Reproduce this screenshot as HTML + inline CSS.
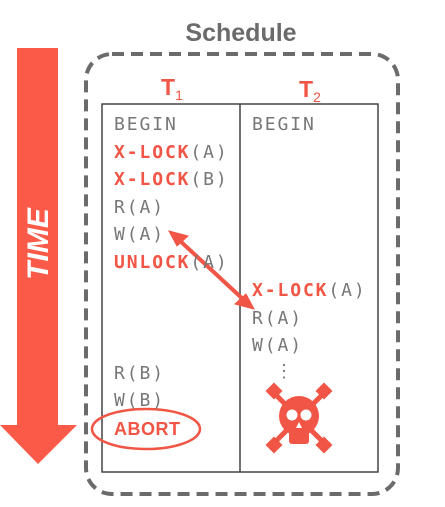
<!DOCTYPE html>
<html><head><meta charset="utf-8"><style>
body{margin:0;width:445px;height:507px;background:#fff;overflow:hidden;position:relative;font-family:"DejaVu Sans Mono","Liberation Mono",monospace}
.t{position:absolute;font-size:18px;letter-spacing:1.9px;color:#777;line-height:20px;white-space:nowrap}
.r{color:#f05545;font-weight:bold}
</style></head><body>
<svg width="445" height="507" style="position:absolute;left:0;top:0">
 <g>
  <rect x="17" y="48" width="41" height="380" fill="#fa5a47"/>
  <polygon points="0,425 77,425 38,464" fill="#fa5a47"/>
  <text x="0" y="0" transform="translate(48,244) rotate(-90)" text-anchor="middle" font-family="Liberation Sans,sans-serif" font-weight="bold" font-style="italic" font-size="30" fill="#fff">TIME</text>
 </g>
 <text x="241" y="41" text-anchor="middle" font-family="Liberation Sans,sans-serif" font-weight="bold" font-size="25" fill="#6b6b6b">Schedule</text>
 <rect x="86" y="54" width="312" height="440" rx="26" fill="none" stroke="#6b6b6b" stroke-width="4" stroke-dasharray="12 7"/>
 <text x="161" y="95" font-family="Liberation Sans,sans-serif" font-weight="bold" font-size="23" fill="#f05545">T<tspan font-size="14" font-weight="normal" dy="5">1</tspan></text>
 <text x="299" y="97" font-family="Liberation Sans,sans-serif" font-weight="bold" font-size="23" fill="#f05545">T<tspan font-size="14" font-weight="normal" dy="5">2</tspan></text>
 <rect x="102" y="104" width="276" height="368" fill="none" stroke="#444" stroke-width="1.5"/>
 <line x1="240" y1="104" x2="240" y2="472" stroke="#444" stroke-width="1.5"/>
 <g stroke="#f05545" fill="#f05545">
  <line x1="178" y1="239" x2="245" y2="301" stroke-width="4"/>
  <polygon points="169,231 188,236 177,246"/>
  <polygon points="254,309 235,304 246,294"/>
 </g>
 <ellipse cx="146" cy="429" rx="54" ry="20" fill="none" stroke="#f05545" stroke-width="2.5"/>
 <g fill="#f05545">
  <line x1="272" y1="391" x2="326" y2="445" stroke="#f05545" stroke-width="5"/>
  <line x1="326" y1="391" x2="272" y2="445" stroke="#f05545" stroke-width="5"/>
  <rect x="268" y="385" width="12" height="12" transform="rotate(45 274 391)"/>
  <rect x="318" y="385" width="12" height="12" transform="rotate(45 324 391)"/>
  <rect x="268" y="439" width="12" height="12" transform="rotate(45 274 445)"/>
  <rect x="318" y="439" width="12" height="12" transform="rotate(45 324 445)"/>
  <circle cx="299" cy="416" r="20"/>
  <rect x="289" y="428" width="20" height="16" rx="3"/>
  <circle cx="292" cy="415" r="5.5" fill="#fff"/>
  <circle cx="306" cy="415" r="5.5" fill="#fff"/>
  <polygon points="299,422 296,428 302,428" fill="#fff"/>
 </g>
</svg>
<div class="t" style="left:114px;top:115px">BEGIN</div>
<div class="t" style="left:114px;top:143px"><span class="r">X-LOCK</span>(A)</div>
<div class="t" style="left:114px;top:170px"><span class="r">X-LOCK</span>(B)</div>
<div class="t" style="left:114px;top:198px">R(A)</div>
<div class="t" style="left:114px;top:225px">W(A)</div>
<div class="t" style="left:114px;top:253px"><span class="r">UNLOCK</span>(A)</div>
<div class="t" style="left:114px;top:364px">R(B)</div>
<div class="t" style="left:114px;top:391px">W(B)</div>
<div class="t" style="left:114px;top:419px"><span class="r" style="font-family:'Liberation Sans',sans-serif;letter-spacing:0.5px">ABORT</span></div>
<div class="t" style="left:252px;top:115px">BEGIN</div>
<div class="t" style="left:252px;top:281px"><span class="r">X-LOCK</span>(A)</div>
<div class="t" style="left:252px;top:309px">R(A)</div>
<div class="t" style="left:252px;top:336px">W(A)</div>
<div class="t" style="left:275px;top:362px">⋮</div>
</body></html>
